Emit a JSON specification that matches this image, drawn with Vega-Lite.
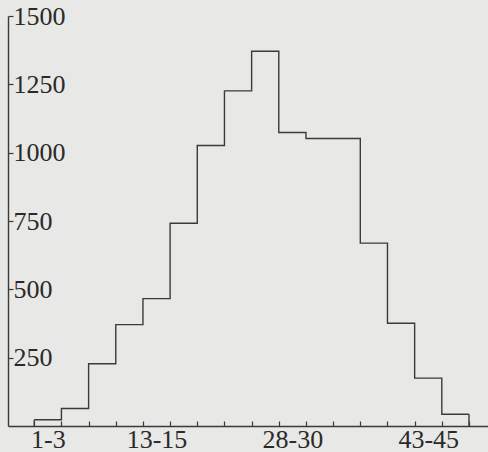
{
  "$schema": "https://vega.github.io/schema/vega-lite/v6.json",
  "autosize": {"type": "none"},
  "padding": {"left": 8, "top": 16, "right": 0, "bottom": 26},
  "width": 480,
  "height": 410,
  "background": "#e8e8e6",
  "config": {
    "view": {"stroke": null},
    "font": "Liberation Serif",
    "axis": {
      "domainColor": "#3a3a3a",
      "domainWidth": 1.4,
      "tickColor": "#3a3a3a",
      "tickWidth": 1.2,
      "labelColor": "#2a2a2a",
      "labelFont": "Liberation Serif",
      "labelFontSize": 26,
      "grid": false,
      "title": null
    }
  },
  "resolve": {"axis": {"x": "independent"}},
  "data": {
    "values": [
      {"bin": "1-3", "lo": 0.5, "hi": 3.5, "count": 23},
      {"bin": "4-6", "lo": 3.5, "hi": 6.5, "count": 64},
      {"bin": "7-9", "lo": 6.5, "hi": 9.5, "count": 228},
      {"bin": "10-12", "lo": 9.5, "hi": 12.5, "count": 371},
      {"bin": "13-15", "lo": 12.5, "hi": 15.5, "count": 466},
      {"bin": "16-18", "lo": 15.5, "hi": 18.5, "count": 742},
      {"bin": "19-21", "lo": 18.5, "hi": 21.5, "count": 1026},
      {"bin": "22-24", "lo": 21.5, "hi": 24.5, "count": 1226},
      {"bin": "25-27", "lo": 24.5, "hi": 27.5, "count": 1371},
      {"bin": "28-30", "lo": 27.5, "hi": 30.5, "count": 1074},
      {"bin": "31-33", "lo": 30.5, "hi": 33.5, "count": 1052},
      {"bin": "34-36", "lo": 33.5, "hi": 36.5, "count": 1052},
      {"bin": "37-39", "lo": 36.5, "hi": 39.5, "count": 669},
      {"bin": "40-42", "lo": 39.5, "hi": 42.5, "count": 376},
      {"bin": "43-45", "lo": 42.5, "hi": 45.5, "count": 175},
      {"bin": "46-48", "lo": 45.5, "hi": 48.5, "count": 43}
    ]
  },
  "layer": [
    {
      "transform": [
        {"fold": ["lo", "hi"], "as": ["edge", "pos"]},
        {"window": [{"op": "row_number", "as": "seq"}]}
      ],
      "mark": {"type": "line", "color": "#3a3a3a", "strokeWidth": 1.4, "clip": false},
      "encoding": {
        "x": {
          "field": "pos",
          "type": "quantitative",
          "scale": {"domain": [-2.4, 50.6], "nice": false, "zero": false},
          "axis": {
            "orient": "bottom",
            "values": [2, 14, 29, 44],
            "ticks": false,
            "tickSize": 0,
            "domain": true,
            "labelPadding": 0,
            "labelFlush": false,
            "labelOverlap": false,
            "labelExpr": "datum.value == 2 ? '1-3' : datum.value == 14 ? '13-15' : datum.value == 29 ? '28-30' : datum.value == 44 ? '43-45' : ''"
          }
        },
        "y": {
          "field": "count",
          "type": "quantitative",
          "scale": {"domain": [0, 1500], "nice": false},
          "axis": {
            "orient": "right",
            "offset": -480,
            "values": [250, 500, 750, 1000, 1250, 1500],
            "format": "d",
            "tickSize": 5,
            "labelPadding": 0,
            "labelAlign": "left",
            "labelBaseline": "middle",
            "labelFlush": false,
            "labelOverlap": false
          }
        },
        "order": {"field": "seq", "type": "quantitative"}
      }
    },
    {
      "transform": [{"filter": "datum.bin == '1-3'"}],
      "mark": {"type": "rule", "color": "#3a3a3a", "strokeWidth": 1.4},
      "encoding": {
        "x": {
          "field": "lo",
          "type": "quantitative",
          "axis": {
            "orient": "top",
            "offset": -410,
            "values": [0.5, 3.5, 6.5, 9.5, 12.5, 15.5, 18.5, 21.5, 24.5, 27.5, 30.5, 33.5, 36.5, 39.5, 42.5, 45.5, 48.5],
            "tickSize": 5,
            "labels": false,
            "domain": false
          }
        },
        "y": {"field": "count", "type": "quantitative"},
        "y2": {"datum": 0}
      }
    },
    {
      "transform": [{"filter": "datum.bin == '46-48'"}],
      "mark": {"type": "rule", "color": "#3a3a3a", "strokeWidth": 1.4},
      "encoding": {
        "x": {"field": "hi", "type": "quantitative", "axis": null},
        "y": {"field": "count", "type": "quantitative"},
        "y2": {"datum": 0}
      }
    }
  ]
}
